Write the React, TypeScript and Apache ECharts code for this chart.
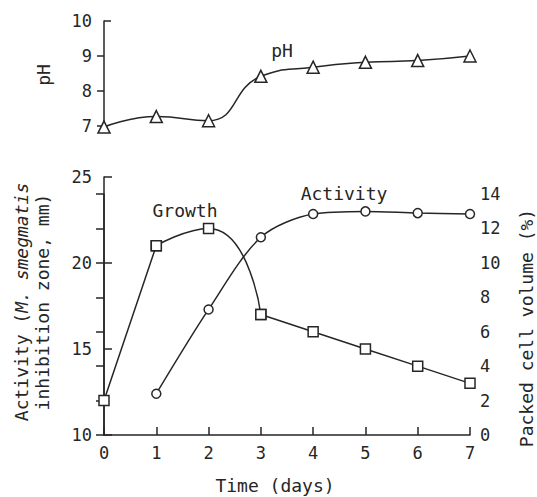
import React, { useEffect, useRef } from "react";
import * as echarts from "echarts";

const days = [0, 1, 2, 3, 4, 5, 6, 7];
const phValues = [6.97, 7.27, 7.15, 8.42, 8.68, 8.82, 8.87, 9.0];
const activityDays = [1, 2, 3, 4, 5, 6, 7];
const activityValues = [12.4, 17.3, 21.5, 22.85, 23.0, 22.9, 22.85];
const growthValues = [2, 11, 12, 7, 6, 5, 4, 3];
// indices of the growth points joined by the smooth arc (days 1–3)
const growthCurveIdx = [1, 2, 3];

const phTicks = [7, 8, 9, 10];
const activityTicks = [10, 15, 20, 25];
const growthTicks = [0, 2, 4, 6, 8, 10, 12, 14];

const INK = "#262626";
const FONT = "DejaVu Sans Mono";

export default function App() {
  const ref = useRef<HTMLDivElement>(null);
  useEffect(() => {
    document.body.style.margin = "0";
    if (!ref.current) return;
    const chart = echarts.init(ref.current, undefined, { renderer: "svg" });
    const axisLine = { show: true, lineStyle: { color: INK, width: 1.5 } };
    const tickStyle = { color: INK, width: 1.5 };
    const label = { color: INK, fontFamily: FONT, fontSize: 17 };
    const hiddenX = (gridIndex: number) => ({
      type: "value",
      gridIndex,
      min: 0,
      max: 7,
      interval: 1,
      show: false,
    });
    const lineCommon = {
      type: "line",
      clip: false,
      lineStyle: { color: INK, width: 1.5 },
      itemStyle: { color: "#fff", borderColor: INK, borderWidth: 1.5 },
      z: 3,
    };
    const txt = (text: string, x: number, y: number, rotation = 0, extra: any = {}) => ({
      type: "text",
      x,
      y,
      rotation,
      style: {
        text,
        font: `18px ${FONT}`,
        fill: INK,
        textAlign: "center",
        textVerticalAlign: "middle",
        ...extra,
      },
    });
    chart.setOption({
      animation: false,
      backgroundColor: "#fff",
      grid: [
        { left: 104, top: 21, width: 366, height: 105 },
        { left: 104, top: 177, width: 366, height: 258 },
        { left: 104, top: 194, width: 366, height: 241 },
      ],
      xAxis: [
        hiddenX(0),
        {
          type: "value",
          gridIndex: 1,
          min: 0,
          max: 7,
          interval: 1,
          axisLine,
          axisTick: { show: true, inside: true, length: 8, lineStyle: tickStyle },
          axisLabel: { ...label, margin: 9 },
          splitLine: { show: false },
        },
        hiddenX(2),
      ],
      yAxis: [
        {
          type: "value",
          gridIndex: 0,
          position: "left",
          min: phTicks[0],
          max: phTicks[phTicks.length - 1],
          interval: 1,
          axisLine,
          axisTick: { show: true, inside: false, length: 7, lineStyle: tickStyle, customValues: [7, 8, 9] },
          axisLabel: { ...label, margin: 12 },
          splitLine: { show: false },
        },
        {
          type: "value",
          gridIndex: 1,
          position: "left",
          min: activityTicks[0],
          max: activityTicks[activityTicks.length - 1],
          interval: 5,
          axisLine,
          axisTick: { show: true, inside: true, length: 8, lineStyle: tickStyle },
          axisLabel: { ...label, margin: 12 },
          splitLine: { show: false },
        },
        {
          type: "value",
          gridIndex: 2,
          position: "right",
          min: growthTicks[0],
          max: growthTicks[growthTicks.length - 1],
          interval: 2,
          axisLine,
          axisTick: { show: true, inside: true, length: 8, lineStyle: tickStyle },
          axisLabel: { ...label, margin: 10 },
          splitLine: { show: false },
        },
        {
          type: "value",
          gridIndex: 0,
          position: "left",
          offset: 0,
          min: phTicks[0],
          max: phTicks[phTicks.length - 1],
          interval: 1,
          axisLine: { show: false },
          axisTick: { show: true, inside: true, length: 7, lineStyle: tickStyle, customValues: [10] },
          axisLabel: { show: false },
          splitLine: { show: false },
        },
      ],
      series: [
        {
          ...lineCommon,
          name: "pH",
          xAxisIndex: 0,
          yAxisIndex: 0,
          data: days.map((d, i) => [d, phValues[i]]),
          smooth: 0.5,
          symbol: "triangle",
          symbolSize: 12,
        },
        {
          ...lineCommon,
          name: "Activity",
          xAxisIndex: 1,
          yAxisIndex: 1,
          data: activityDays.map((d, i) => [d, activityValues[i]]),
          smooth: 0.3,
          symbol: "circle",
          symbolSize: 9,
        },
        {
          ...lineCommon,
          name: "Growth",
          xAxisIndex: 2,
          yAxisIndex: 2,
          data: days.map((d, i) => [d, i === 2 ? null : growthValues[i]]),
          connectNulls: false,
          smooth: false,
          symbol: "rect",
          symbolSize: 10,
        },
        {
          ...lineCommon,
          name: "Growth arc",
          xAxisIndex: 2,
          yAxisIndex: 2,
          data: growthCurveIdx.map((i) => [days[i], growthValues[i]]),
          smooth: 0.6,
          symbol: "rect",
          symbolSize: 10,
        },
      ],
      graphic: [
        txt("pH", 43, 75, Math.PI / 2),
        txt("pH", 282, 50),
        txt("Growth", 185, 210),
        txt("Activity", 344, 193),
        txt("Time (days)", 275, 485),
        txt("Activity ({i|M. smegmatis}", 21, 302, Math.PI / 2, {
          rich: { i: { fontStyle: "italic", fontFamily: FONT, fontSize: 18, fill: INK } },
        }),
        txt("inhibition zone, mm)", 42, 302, Math.PI / 2),
        txt("Packed cell volume (%)", 526, 328, Math.PI / 2),
      ],
    });
    return () => chart.dispose();
  }, []);
  return <div ref={ref} style={{ width: 537, height: 497 }} />;
}
